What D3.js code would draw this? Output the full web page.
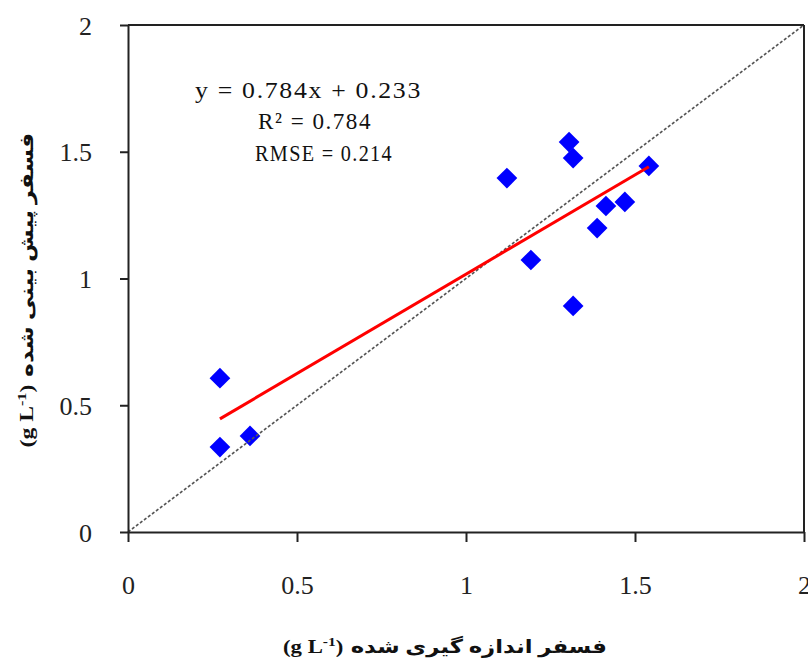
<!DOCTYPE html>
<html>
<head>
<meta charset="utf-8">
<script src="https://cdn.jsdelivr.net/npm/d3@7"></script>
<style>
  html, body { margin: 0; padding: 0; background: #fff; }
  svg { display: block; }
</style>
</head>
<body>
<svg id="chart" width="808" height="664"></svg>
<script>
// ---- data ----
const measured  = [0.272, 0.272, 0.361, 1.121, 1.192, 1.305, 1.317, 1.317, 1.388, 1.414, 1.470, 1.541];
const predicted = [0.607, 0.335, 0.379, 1.396, 1.073, 1.538, 1.475, 0.892, 1.199, 1.286, 1.302, 1.444];
const slope = 0.784;
const intercept = 0.233;
const tickValues = [0, 0.5, 1, 1.5, 2];
const tickLabels = ["0", "0.5", "1", "1.5", "2"];
const equationLines = ["y = 0.784x + 0.233", "R² = 0.784", "RMSE = 0.214"];
const xTitleFa = "فسفر اندازه گیری شده";
const yTitleFa = "فسفر پیش بینی شده";
const unitMain = "(g L";
const unitSup = "-1";
const unitClose = ")";

// ---- layout ----
const svg = d3.select("#chart");
const x = d3.scaleLinear().domain([0, 2]).range([128, 804]);
const y = d3.scaleLinear().domain([0, 2]).range([532, 25]);
const axisColor = "#222";
const tickFont = "'Liberation Serif', 'Times New Roman', serif";

// points (drawn first, lines on top)
const pts = measured.map((m, i) => ({ m, p: predicted[i] }));
svg.append("g").selectAll("path").data(pts).join("path")
  .attr("d", d3.symbol(d3.symbolSquare, 215)())
  .attr("transform", d => `translate(${x(d.m)},${y(d.p)}) rotate(45)`)
  .attr("fill", "#0000ff");

// 1:1 dashed line
svg.append("line")
  .attr("x1", x(0)).attr("y1", y(0)).attr("x2", x(2)).attr("y2", y(2))
  .attr("stroke", "#555").attr("stroke-width", 1.6).attr("stroke-dasharray", "3,2");

// regression line
const xMin = d3.min(measured), xMax = d3.max(measured);
svg.append("line")
  .attr("x1", x(xMin)).attr("y1", y(slope * xMin + intercept))
  .attr("x2", x(xMax)).attr("y2", y(slope * xMax + intercept))
  .attr("stroke", "#ff0000").attr("stroke-width", 3);

// frame top & right
svg.append("line").attr("x1", x(0)).attr("x2", x(2)).attr("y1", y(2)).attr("y2", y(2))
  .attr("stroke", axisColor).attr("stroke-width", 2);
svg.append("line").attr("x1", x(2)).attr("x2", x(2)).attr("y1", y(2)).attr("y2", y(0))
  .attr("stroke", axisColor).attr("stroke-width", 2);

// axes
const fmt = d => tickLabels[tickValues.indexOf(d)];
const gx = svg.append("g").attr("transform", `translate(0,${y(0)})`)
  .call(d3.axisBottom(x).tickValues(tickValues).tickFormat(fmt).tickSize(10).tickSizeOuter(0));
const gy = svg.append("g").attr("transform", `translate(${x(0)},0)`)
  .call(d3.axisLeft(y).tickValues(tickValues).tickFormat(fmt).tickSize(8).tickSizeOuter(0));
[gx, gy].forEach(g => {
  g.select(".domain").attr("stroke", axisColor).attr("stroke-width", 2);
  g.selectAll(".tick line").attr("stroke", axisColor).attr("stroke-width", 2);
  g.selectAll(".tick text").attr("font-family", tickFont).attr("font-size", 26).attr("fill", "#222");
});
gx.selectAll(".tick text").attr("y", 53).attr("dy", "0.35em");
gy.selectAll(".tick text").attr("x", -36).attr("dy", "0.35em");

// equation text
const eqPos = [[195, 98, 227], [258, 129, 114], [255, 161, 138]];
equationLines.forEach((t, i) => {
  svg.append("text")
    .attr("x", eqPos[i][0]).attr("y", eqPos[i][1])
    .attr("font-family", tickFont).attr("font-size", 23).attr("fill", "#111")
    .attr("letter-spacing", 1.5)
    .attr("textLength", eqPos[i][2]).attr("lengthAdjust", "spacingAndGlyphs")
    .text(t);
});

// axis titles: unit part (LTR) on the left, Persian part on the right
function title(g, fa, targetLen) {
  const inner = g.append("g");
  const common = t => t.attr("font-family", "'Liberation Serif', 'DejaVu Sans', serif")
    .attr("font-weight", "bold").attr("font-size", 19).attr("fill", "#111");
  const a = common(inner.append("text")).attr("x", 0).attr("direction", "ltr");
  a.append("tspan").text(unitMain);
  a.append("tspan").attr("dy", -7).attr("font-size", 13).text(unitSup);
  a.append("tspan").attr("dy", 7).text(unitClose);
  const wa = a.node().getComputedTextLength();
  const gap = 6;
  const b = common(inner.append("text")).attr("x", wa + gap).attr("direction", "rtl")
    .attr("text-anchor", "end").text(fa);
  const wb = b.node().getComputedTextLength();
  const total = wa + gap + wb;
  const s = targetLen / total;
  inner.attr("transform", `scale(${s},1) translate(${-total / 2},0)`);
}
const gxt = svg.append("g").attr("transform", "translate(445,653)");
title(gxt, xTitleFa, 324);
const gyt = svg.append("g").attr("transform", "translate(33,290) rotate(-90)");
title(gyt, yTitleFa, 315);
</script>
</body>
</html>
